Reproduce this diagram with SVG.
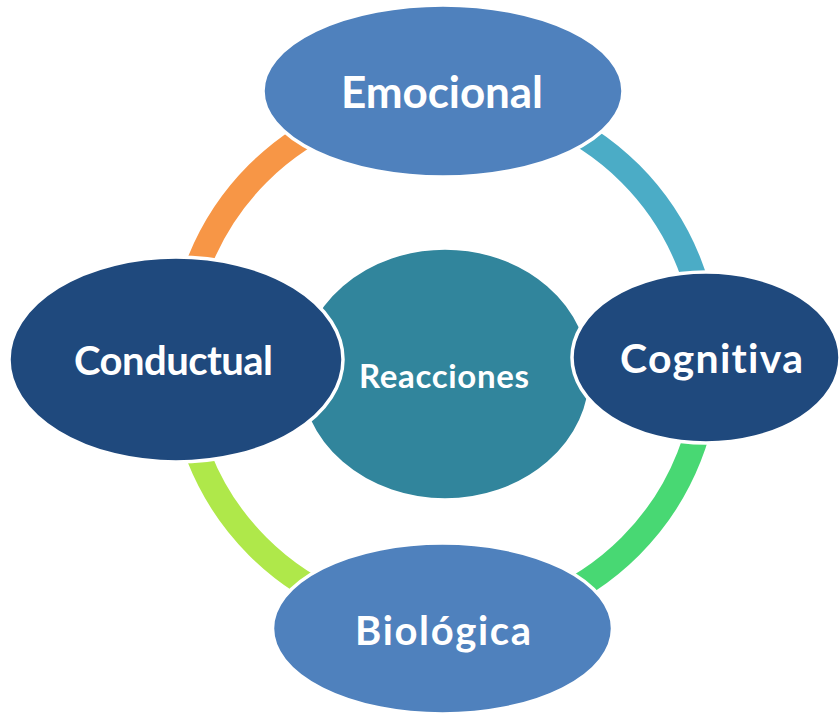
<svg xmlns="http://www.w3.org/2000/svg" width="840" height="715" viewBox="0 0 840 715">
<style>
.arc{fill:none;stroke-width:25;stroke-linecap:butt}
.node{stroke:#ffffff;stroke-width:3.5}
.lbl{font-family:Lato,"Liberation Sans",Arial,sans-serif;font-weight:bold;fill:#ffffff;text-anchor:middle;font-variant-ligatures:none}
</style>
<rect width="840" height="715" fill="#ffffff"/>
<g id="connectors">
<path class="arc" stroke="#F79646" d="M180.5 360 A263.5 263.5 0 0 1 444 96.5"/>
<path class="arc" stroke="#4BACC6" d="M444 96.5 A263.5 263.5 0 0 1 707.5 360"/>
<path class="arc" stroke="#48D873" d="M707.5 360 A263.5 263.5 0 0 1 444 623.5"/>
<path class="arc" stroke="#AFE84A" d="M444 623.5 A263.5 263.5 0 0 1 180.5 360"/>
</g>
<g id="reacciones">
<ellipse class="node" cx="445" cy="374" rx="146" ry="126" fill="#31859C"/>
<text class="lbl" x="444" y="388" font-size="33" textLength="170">Reacciones</text>
</g>
<g id="emocional">
<ellipse class="node" cx="443" cy="91" rx="180" ry="86" fill="#4F81BD"/>
<text class="lbl" x="442" y="108" font-size="44" textLength="202">Emocional</text>
</g>
<g id="conductual">
<ellipse class="node" cx="176" cy="359.5" rx="167" ry="102.5" fill="#1F497D"/>
<text class="lbl" x="173.5" y="375" font-size="40" textLength="199">Conductual</text>
</g>
<g id="cognitiva">
<ellipse class="node" cx="706" cy="357.5" rx="134" ry="85.5" fill="#1F497D"/>
<text class="lbl" x="711.5" y="373" font-size="41" textLength="183">Cognitiva</text>
</g>
<g id="biologica">
<ellipse class="node" cx="442.5" cy="628.5" rx="170" ry="85.5" fill="#4F81BD"/>
<text class="lbl" x="443" y="645" font-size="40" textLength="176">Biológica</text>
</g>
</svg>
